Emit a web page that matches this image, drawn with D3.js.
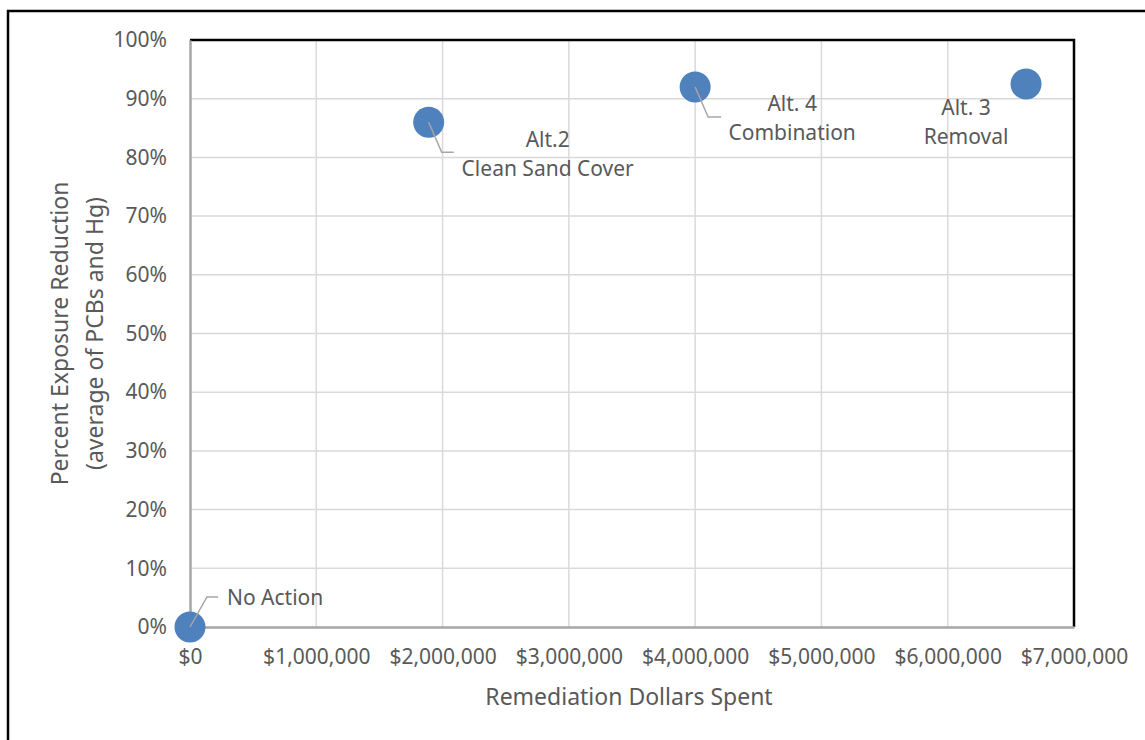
<!DOCTYPE html>
<html><head><meta charset="utf-8">
<script src="https://cdn.jsdelivr.net/npm/d3@7"></script>
<style>
html,body{margin:0;padding:0;background:#fff;}
svg text{font-family:"Noto Sans","Open Sans",sans-serif;fill:#595959;}
</style></head>
<body><svg id="c" width="1145" height="740"></svg>
<script>
// ---- data ----
const labels = ["No Action", "Alt.2\nClean Sand Cover", "Alt. 4\nCombination", "Alt. 3\nRemoval"];
const dollars = [0, 1890000, 4000000, 6620000];
const reduction = [0.00, 0.86, 0.92, 0.925];
const xTicks = [0, 1000000, 2000000, 3000000, 4000000, 5000000, 6000000, 7000000];
const yTicks = [0, 0.1, 0.2, 0.3, 0.4, 0.5, 0.6, 0.7, 0.8, 0.9, 1.0];
const xTitle = "Remediation Dollars Spent";
const yTitle = ["Percent Exposure Reduction", "(average of PCBs and Hg)"];

// ---- layout (label placement relative to point, pixels) ----
const labelLayout = [
  {tx: 37, ty: -22, anchor: "start", leader: [[0,0],[17,-30],[28,-30]]},
  {tx: 119, ty: 25, anchor: "middle", leader: [[0,0],[13,30],[25,30]]},
  {tx: 97, ty: 24, anchor: "middle", leader: [[0,0],[13,30],[26,30]]},
  {tx: -60, ty: 31, anchor: "middle", leader: null}
];

const svg = d3.select("#c");
const L = 190, R = 1074, T = 40, B = 627;
const x = d3.scaleLinear().domain([0, 7000000]).range([L, R]);
const y = d3.scaleLinear().domain([0, 1]).range([B, T]);

// outer border
svg.append("path").attr("d", `M8,740 L8,11 L1145,11`).attr("fill","none")
  .attr("stroke","#000").attr("stroke-width",2.5);

// gridlines
svg.append("g").selectAll("line").data(yTicks.filter(d=>d>0 && d<1)).join("line")
  .attr("x1", L).attr("x2", R).attr("y1", d=>y(d)).attr("y2", d=>y(d))
  .attr("stroke","#d9d9d9").attr("stroke-width",1.5);
svg.append("g").selectAll("line").data(xTicks.filter(d=>d>0 && d<7000000)).join("line")
  .attr("y1", T).attr("y2", B).attr("x1", d=>x(d)).attr("x2", d=>x(d))
  .attr("stroke","#d9d9d9").attr("stroke-width",1.5);

// plot border top/right (black)
svg.append("path").attr("d", `M${L},${T} L${R},${T} L${R},${B}`).attr("fill","none")
  .attr("stroke","#000").attr("stroke-width",2.5);

// axes
const xAxis = d3.axisBottom(x).tickValues(xTicks).tickSize(0)
  .tickFormat(d => "$" + d3.format(",")(d));
const gx = svg.append("g").attr("transform", `translate(0,${B})`).call(xAxis);
gx.select(".domain").attr("stroke","#a6a6a6").attr("stroke-width",2.5);
gx.selectAll("text").attr("font-size",21).attr("y",0).attr("dy","1.75em").style("fill","#595959")
  .attr("font-family","Noto Sans");

const yAxis = d3.axisLeft(y).tickValues(yTicks).tickSize(0)
  .tickFormat(d3.format(".0%"));
const gy = svg.append("g").attr("transform", `translate(${L},0)`).call(yAxis);
gy.select(".domain").attr("stroke","#a6a6a6").attr("stroke-width",2.5);
gy.selectAll("text").attr("font-size",21).attr("x",-23).style("fill","#595959")
  .attr("font-family","Noto Sans");

// titles
svg.append("text").attr("x", (L+R)/2 - 3).attr("y", 705).attr("text-anchor","middle")
  .attr("font-size",23).text(xTitle);
yTitle.forEach((t,i)=>{
  svg.append("text").attr("transform", `translate(${68 + i*35},${(T+B)/2}) rotate(-90)`)
    .attr("text-anchor","middle").attr("font-size",23).text(t);
});

// points
const pts = dollars.map((d,i)=>({x:d, y:reduction[i], label:labels[i], lay:labelLayout[i]}));
svg.append("g").selectAll("circle").data(pts).join("circle")
  .attr("cx", d=>x(d.x)).attr("cy", d=>y(d.y)).attr("r",15.5).attr("fill","#4f81bd");

// leaders and labels
const lg = svg.append("g");
pts.forEach(p=>{
  const cx = x(p.x), cy = y(p.y);
  if (p.lay.leader) {
    lg.append("path").attr("d", d3.line()(p.lay.leader.map(([a,b])=>[cx+a, cy+b])))
      .attr("fill","none").attr("stroke","#a6a6a6").attr("stroke-width",1.5);
  }
  const lines = p.label.split("\n");
  const t = lg.append("text").attr("text-anchor", p.lay.anchor).attr("font-size",21);
  lines.forEach((ln,k)=>{
    t.append("tspan").attr("x", cx + p.lay.tx).attr("y", cy + p.lay.ty + k*29).text(ln);
  });
});
</script></body></html>
